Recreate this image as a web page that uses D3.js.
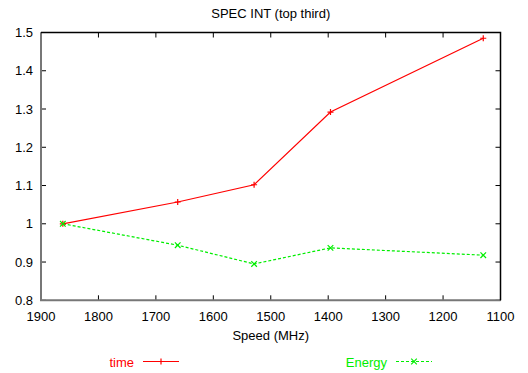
<!DOCTYPE html>
<html lang="en">
<head>
<meta charset="UTF-8">
<title>SPEC INT (top third)</title>
<script src="https://cdn.jsdelivr.net/npm/d3@7"></script>
<style>
    body { margin: 0; background: #fff; }
    svg text { font-family: "Liberation Sans", Arial, sans-serif; font-size: 13px; }
</style>
</head>
<body>
<svg id="chart" width="528" height="373"></svg>
<script>
// speeds in MHz
var speeds = [1862, 1662, 1529, 1396, 1130];
var timeValues = [1.0, 1.057, 1.102, 1.292, 1.485];
var energyValues = [1.0, 0.944, 0.895, 0.937, 0.918];
var xTicks = [1900, 1800, 1700, 1600, 1500, 1400, 1300, 1200, 1100];
var yTicks = [0.8, 0.9, 1.0, 1.1, 1.2, 1.3, 1.4, 1.5];

var svg = d3.select("#chart");
var pLeft = 41, pRight = 500.5, pTop = 32.5, pBottom = 300.3;

var x = d3.scaleLinear().domain([1900, 1100]).range([pLeft, pRight]);
var y = d3.scaleLinear().domain([0.8, 1.5]).range([pBottom, pTop]);

var tickLen = 5;

// ticks on all four sides, pointing in
var g = svg.append("g");
xTicks.forEach(function (t) {
    g.append("line").attr("x1", x(t)).attr("x2", x(t)).attr("y1", pBottom).attr("y2", pBottom - tickLen)
        .attr("stroke", "#000");
    g.append("line").attr("x1", x(t)).attr("x2", x(t)).attr("y1", pTop).attr("y2", pTop + tickLen)
        .attr("stroke", "#000");
    g.append("text").attr("x", x(t)).attr("y", 320.5).attr("text-anchor", "middle").text(t);
});
yTicks.forEach(function (t) {
    g.append("line").attr("x1", pLeft).attr("x2", pLeft + tickLen).attr("y1", y(t)).attr("y2", y(t))
        .attr("stroke", "#000");
    g.append("line").attr("x1", pRight).attr("x2", pRight - tickLen).attr("y1", y(t)).attr("y2", y(t))
        .attr("stroke", "#000");
    g.append("text").attr("x", 33).attr("y", y(t) + 4.7).attr("text-anchor", "end")
        .text(d3.format("~g")(t));
});

// border: left/bottom grey, top/right black
svg.append("path").attr("d", "M" + pLeft + "," + pTop + "L" + pLeft + "," + pBottom + "L" + pRight + "," + pBottom)
    .attr("fill", "none").attr("stroke", "#777").attr("stroke-width", 2);
svg.append("path").attr("d", "M" + pLeft + "," + pTop + "L" + pRight + "," + pTop + "L" + pRight + "," + pBottom)
    .attr("fill", "none").attr("stroke", "#000").attr("stroke-width", 1.5);

var line = d3.line().x(function (d) { return x(d[0]); }).y(function (d) { return y(d[1]); });

var timeData = d3.zip(speeds, timeValues);
var energyData = d3.zip(speeds, energyValues);

svg.append("path").datum(timeData).attr("d", line)
    .attr("fill", "none").attr("stroke", "#ff0000").attr("stroke-width", 1.2);
svg.append("path").datum(energyData).attr("d", line)
    .attr("fill", "none").attr("stroke", "#00ee00").attr("stroke-width", 1.2).attr("stroke-dasharray", "3,2");

function plus(sel, cx, cy, color) {
    var s = 3;
    sel.append("path").attr("d", "M" + (cx - s) + "," + cy + "h" + (2 * s) + "M" + cx + "," + (cy - s) + "v" + (2 * s))
        .attr("stroke", color).attr("stroke-width", 1.2).attr("fill", "none");
}
function cross(sel, cx, cy, color) {
    var s = 2.8;
    sel.append("path").attr("d", "M" + (cx - s) + "," + (cy - s) + "l" + (2 * s) + "," + (2 * s) +
        "M" + (cx - s) + "," + (cy + s) + "l" + (2 * s) + "," + (-2 * s))
        .attr("stroke", color).attr("stroke-width", 1.2).attr("fill", "none");
}

timeData.forEach(function (d) { plus(svg, x(d[0]), y(d[1]), "#ff0000"); });
energyData.forEach(function (d) { cross(svg, x(d[0]), y(d[1]), "#00ee00"); });

// title and axis label
svg.append("text").attr("x", (pLeft + pRight) / 2).attr("y", 17.5).attr("text-anchor", "middle")
    .text("SPEC INT (top third)");
svg.append("text").attr("x", (pLeft + pRight) / 2).attr("y", 339.5).attr("text-anchor", "middle")
    .text("Speed (MHz)");

// legend
var legend = [
    {name: "time", color: "#ff0000", tx: 134, lx: 143, dash: null, mark: plus},
    {name: "Energy", color: "#00ee00", tx: 387, lx: 396, dash: "3,2", mark: cross}
];
legend.forEach(function (d) {
    svg.append("text").attr("x", d.tx).attr("y", 366.5).attr("text-anchor", "end")
        .attr("fill", d.color).text(d.name);
    svg.append("line").attr("x1", d.lx).attr("x2", d.lx + 36).attr("y1", 361.5).attr("y2", 361.5)
        .attr("stroke", d.color).attr("stroke-width", 1.2).attr("stroke-dasharray", d.dash);
    d.mark(svg, d.lx + 18, 361.5, d.color);
});
</script>
</body>
</html>
